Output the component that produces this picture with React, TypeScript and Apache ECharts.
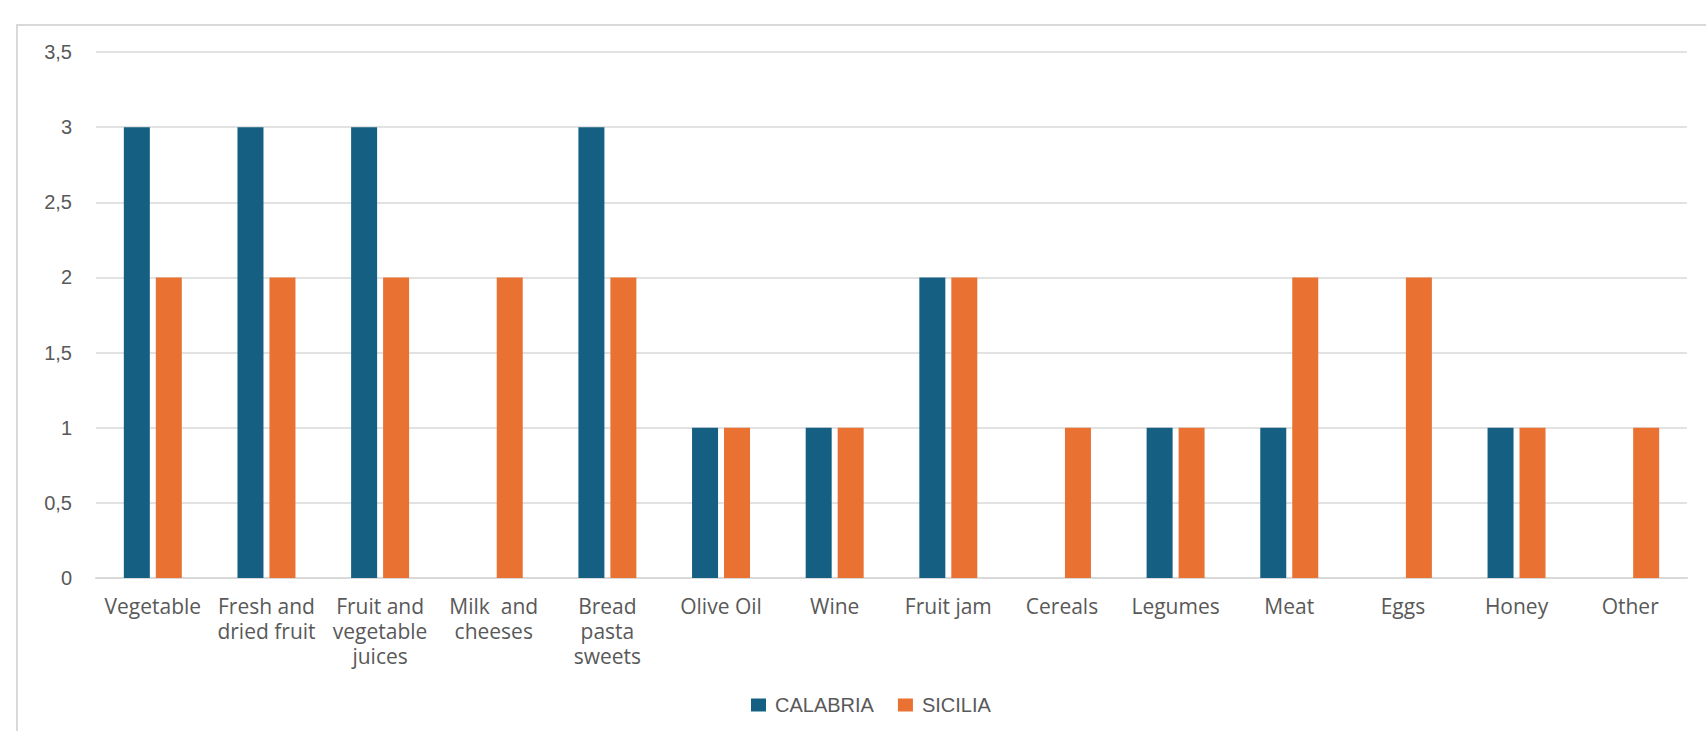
import React, { useEffect, useRef } from "react";
import * as echarts from "echarts";

const categories = [
  "Vegetable",
  "Fresh and\ndried fruit",
  "Fruit and\nvegetable\njuices",
  "Milk  and\ncheeses",
  "Bread\npasta\nsweets",
  "Olive Oil",
  "Wine",
  "Fruit jam",
  "Cereals",
  "Legumes",
  "Meat",
  "Eggs",
  "Honey",
  "Other",
];
const calabria = [3, 3, 3, 0, 3, 1, 1, 2, 0, 1, 1, 0, 1, 0];
const sicilia = [2, 2, 2, 2, 2, 1, 1, 2, 1, 1, 2, 2, 1, 1];

const LABEL_FONT = "'Open Sans', Lato, 'Liberation Sans', sans-serif";
const SANS = "'Liberation Sans', Arial, sans-serif";

export default function App() {
  const ref = useRef<HTMLDivElement>(null);
  useEffect(() => {
    if (!ref.current) return;
    const chart = echarts.init(ref.current, null, { renderer: "svg" });
    chart.setOption({
      animation: false,
      backgroundColor: "#ffffff",
      graphic: [
        {
          type: "rect",
          shape: { x: 17, y: 25, width: 1700, height: 720 },
          style: { fill: "none", stroke: "#d9d9d9", lineWidth: 2 },
          silent: true,
        },
      ],
      grid: { left: 96, right: 19, top: 52, bottom: 153, containLabel: false },
      legend: {
        bottom: 11,
        left: 746,
        itemWidth: 15,
        itemHeight: 13,
        itemGap: 24,
        icon: "rect",
        textStyle: { fontFamily: SANS, fontSize: 20, color: "#595959", padding: [0, 0, 0, 4] },
        data: ["CALABRIA", "SICILIA"],
      },
      xAxis: {
        type: "category",
        data: categories,
        axisLine: { lineStyle: { color: "#d9d9d9", width: 2 } },
        axisTick: { show: false },
        axisLabel: {
          interval: 0,
          margin: 15,
          fontFamily: LABEL_FONT,
          fontSize: 21,
          lineHeight: 25,
          color: "#595959",
        },
      },
      yAxis: {
        type: "value",
        min: 0,
        max: 3.5,
        interval: 0.5,
        axisLine: { show: false },
        axisTick: { show: false },
        splitLine: { lineStyle: { color: "#d9d9d9", width: 1.5 } },
        axisLabel: {
          margin: 24,
          fontFamily: SANS,
          fontSize: 20,
          color: "#595959",
          formatter: (v: number) => String(v).replace(".", ","),
        },
      },
      series: [
        {
          name: "CALABRIA",
          type: "bar",
          data: calabria,
          barWidth: 26,
          barGap: "23%",
          itemStyle: { color: "#156082" },
        },
        {
          name: "SICILIA",
          type: "bar",
          data: sicilia,
          barWidth: 26,
          barGap: "23%",
          itemStyle: { color: "#E97132" },
        },
      ],
    });
    return () => chart.dispose();
  }, []);
  return (
    <div style={{ position: "fixed", left: 0, top: 0, width: 1706, height: 731 }}>
      <div ref={ref} style={{ width: 1706, height: 731 }} />
    </div>
  );
}
